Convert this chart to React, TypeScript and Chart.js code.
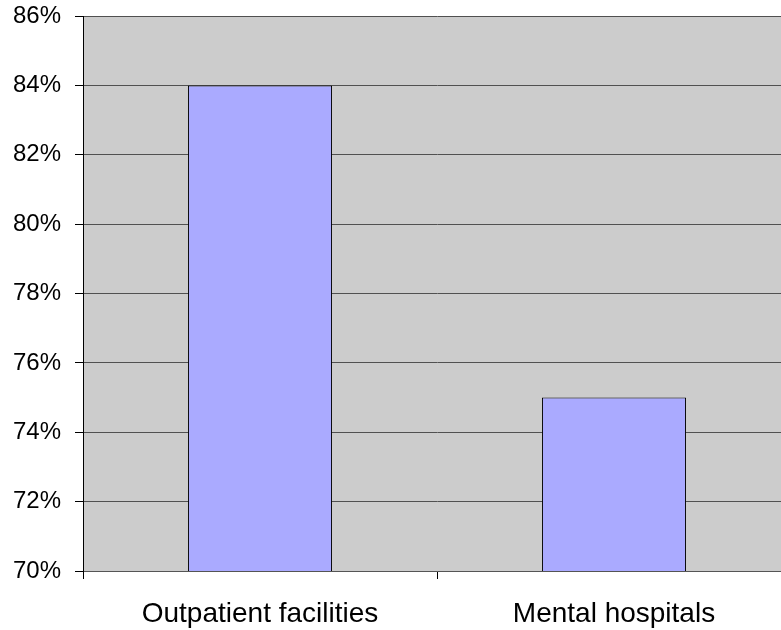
import React, { useEffect, useRef } from "react";
import { Chart, registerables } from "chart.js";

Chart.register(...registerables);

const categories: string[] = ["Outpatient facilities", "Mental hospitals"];
const percentValues: number[] = [84, 75];
const yMin = 70;
const yMax = 86;
const yStep = 2;

const plotBackground = {
  id: "plotBackground",
  beforeDraw(chart: any) {
    const { ctx, chartArea } = chart;
    ctx.save();
    ctx.fillStyle = "#CCCCCC";
    ctx.fillRect(chartArea.left, chartArea.top, chartArea.right - chartArea.left, chartArea.bottom - chartArea.top);
    ctx.restore();
  },
};

export default function App() {
  const ref = useRef<HTMLCanvasElement>(null);

  useEffect(() => {
    if (!ref.current) return;
    const chart = new Chart(ref.current, {
      type: "bar",
      data: {
        labels: categories,
        datasets: [
          {
            data: percentValues,
            backgroundColor: "#AAAAFF",
            borderColor: "#000000",
            borderWidth: 1,
            categoryPercentage: 1,
            barPercentage: 0.407,
          },
        ],
      },
      options: {
        animation: false,
        responsive: false,
        maintainAspectRatio: false,
        layout: { padding: { top: 16, left: 0, right: 0, bottom: 0 } },
        plugins: { legend: { display: false }, tooltip: { enabled: false } },
        scales: {
          x: {
            grid: {
              display: true,
              drawOnChartArea: false,
              drawTicks: true,
              tickLength: 8,
              color: "#000000",
              offset: true,
            },
            border: { display: true, color: "#555555" },
            ticks: {
              color: "#000000",
              font: { family: "'Liberation Sans', Arial, sans-serif", size: 28 },
              padding: 18,
              maxRotation: 0,
              autoSkip: false,
            },
            afterFit(scale: any) {
              scale.height = 59;
              scale.paddingLeft = 0;
              scale.paddingRight = 0;
            },
          },
          y: {
            min: yMin,
            max: yMax,
            grid: {
              color: "#505050",
              tickColor: "#000000",
              tickLength: 8,
              drawTicks: true,
            },
            border: { display: true, color: "#000000" },
            ticks: {
              stepSize: yStep,
              color: "#000000",
              padding: 14,
              font: { family: "'Liberation Sans', Arial, sans-serif", size: 24 },
              callback: (v: any) => `${v}%`,
            },
            afterFit(scale: any) {
              scale.width = 83;
              scale.paddingTop = 0;
              scale.paddingBottom = 0;
            },
          },
        },
      },
      plugins: [plotBackground],
    });
    return () => chart.destroy();
  }, []);

  return (
    <div
      style={{
        position: "fixed",
        left: 0,
        top: 0,
        width: 781,
        height: 630,
        overflow: "hidden",
        background: "#FFFFFF",
      }}
    >
      <canvas ref={ref} width={791} height={630} style={{ display: "block", width: 791, height: 630 }} />
    </div>
  );
}
